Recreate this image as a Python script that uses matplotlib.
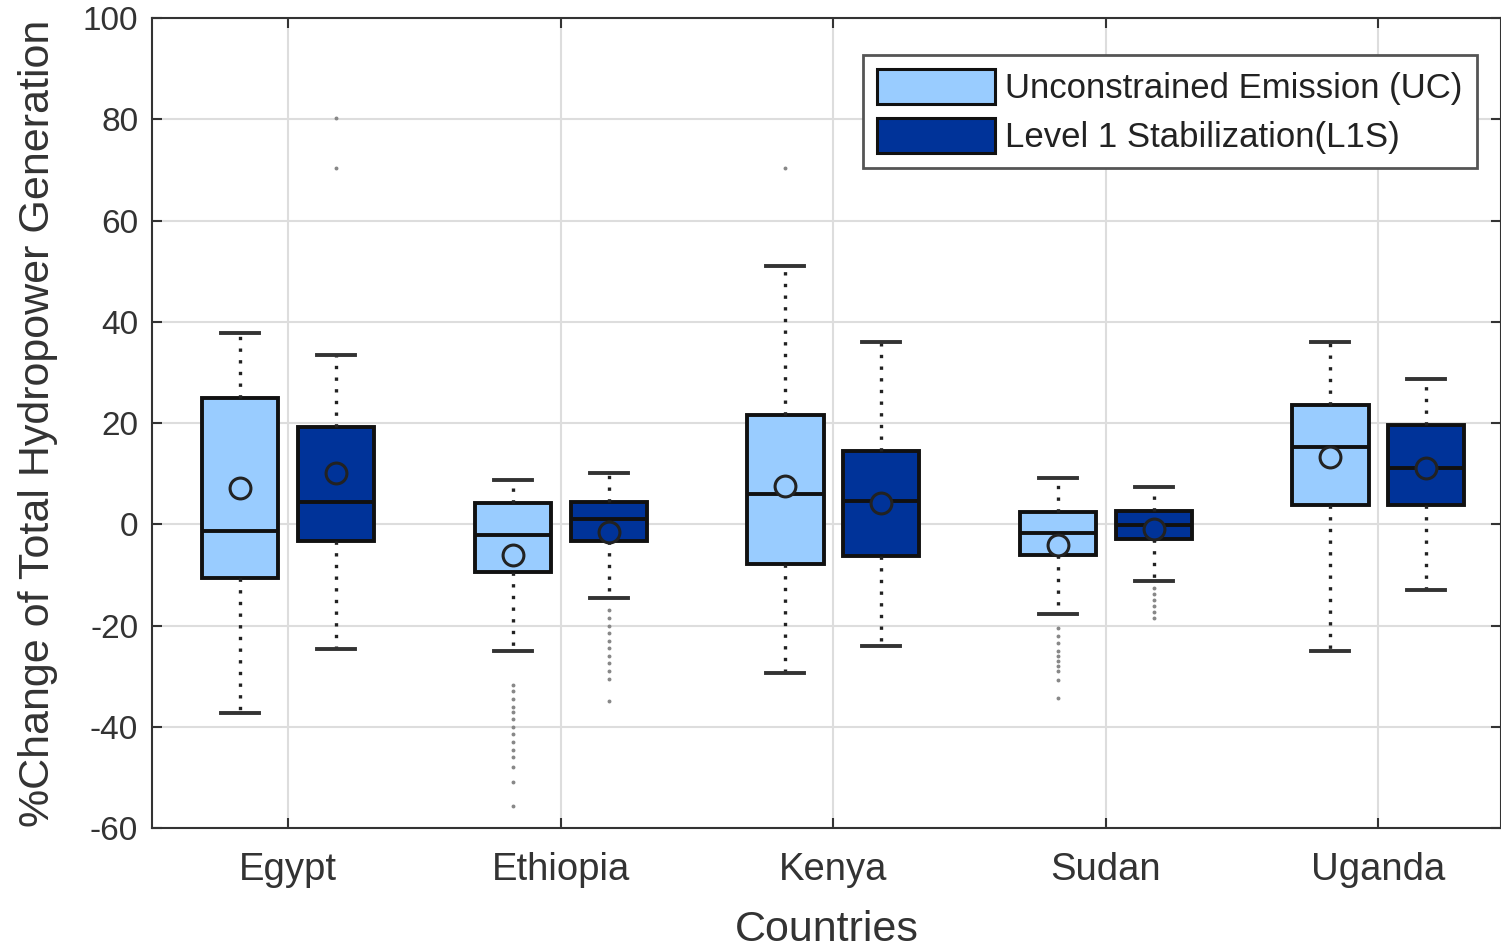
import matplotlib.pyplot as plt
from matplotlib.patches import Patch

plt.rcParams['font.family'] = ['Liberation Sans', 'DejaVu Sans']

# data
countries = ['Egypt', 'Ethiopia', 'Kenya', 'Sudan', 'Uganda']

uc_whislo = [-37.2, -25.0, -29.3, -17.8, -25.1]
uc_q1 = [-10.7, -9.5, -7.9, -6.1, 3.8]
uc_med = [-1.4, -2.2, 5.9, -1.8, 15.3]
uc_q3 = [25.0, 4.2, 21.6, 2.4, 23.6]
uc_whishi = [37.8, 8.7, 51.1, 9.1, 36.1]
uc_mean = [7.1, -6.1, 7.5, -4.0, 13.3]
uc_fliers = [
    [],
    [-31.8, -33, -34.5, -36, -37, -38.5, -40, -41.5, -43, -44.5, -46, -48, -51, -55.7],
    [70.3],
    [-20.5, -22, -23.5, -25, -26, -27, -28, -29, -30.7, -34.3],
    [],
]

l1_whislo = [-24.6, -14.5, -24.0, -11.2, -12.9]
l1_q1 = [-3.4, -3.4, -6.3, -3.0, 3.8]
l1_med = [4.4, 1.0, 4.6, -0.2, 11.2]
l1_q3 = [19.2, 4.4, 14.5, 2.6, 19.6]
l1_whishi = [33.5, 10.1, 36.0, 7.3, 28.7]
l1_mean = [10.1, -1.6, 4.2, -1.0, 11.1]
l1_fliers = [
    [80.3, 70.3],
    [-17, -18.5, -20, -21.5, -23, -24.5, -26, -27.5, -29, -30.5, -35],
    [],
    [-12.5, -13.8, -15, -16.2, -17.3, -18.5],
    [],
]

light = '#99CCFF'
dark = '#003399'


def make_stats(lo, q1, med, q3, hi, mean, fl):
    return [dict(whislo=lo[i], q1=q1[i], med=med[i], q3=q3[i], whishi=hi[i],
                 mean=mean[i], fliers=fl[i]) for i in range(len(lo))]


fig = plt.figure(figsize=(15.01, 9.49), dpi=100)
ax = fig.add_axes([0.1013, 0.1275, 0.8987, 0.8535])

x = list(range(1, len(countries) + 1))
off = 0.176
w = 0.28

for stats, pos, col in [
    (make_stats(uc_whislo, uc_q1, uc_med, uc_q3, uc_whishi, uc_mean, uc_fliers),
     [p - off for p in x], light),
    (make_stats(l1_whislo, l1_q1, l1_med, l1_q3, l1_whishi, l1_mean, l1_fliers),
     [p + off for p in x], dark),
]:
    ax.bxp(stats, positions=pos, widths=w, patch_artist=True, showmeans=True,
           capwidths=0.14,
           boxprops=dict(facecolor=col, edgecolor='#111111', linewidth=2.8),
           medianprops=dict(color='#111111', linewidth=2.8),
           whiskerprops=dict(color='#222222', linewidth=2.4, linestyle=(0, (1, 2.5))),
           capprops=dict(color='#333333', linewidth=2.8),
           meanprops=dict(marker='o', markerfacecolor=col, markeredgecolor='#222222',
                          markersize=15, markeredgewidth=2.2),
           flierprops=dict(marker='o', markersize=1.8, markerfacecolor='#888888',
                           markeredgecolor='#888888', linestyle='none'),
           zorder=3)

ax.set_xlim(0.5, 5.45)
ax.set_ylim(-60, 100)
ax.set_xticks(x)
ax.set_xticklabels(countries)
yt = list(range(-60, 101, 20))
ax.set_yticks(yt)
ax.set_yticklabels([str(v) for v in yt])
ax.tick_params(direction='in', length=7, width=1.5, colors='#333333',
               top=True, right=True)
ax.tick_params(axis='x', labelsize=27.5, pad=17)
ax.tick_params(axis='y', labelsize=24, pad=10)
ax.grid(True, color='#dddddd', linewidth=1.5, zorder=0)
ax.set_axisbelow(True)
for s in ax.spines.values():
    s.set_color('#333333')
    s.set_linewidth(1.5)

ax.set_xlabel('Countries', fontsize=31, color='#333333', labelpad=16)
ax.set_ylabel('%Change of Total Hydropower Generation', fontsize=31,
              color='#333333', labelpad=18)

handles = [Patch(facecolor=light, edgecolor='#111111', linewidth=2.2),
           Patch(facecolor=dark, edgecolor='#111111', linewidth=2.2)]
leg = ax.legend(handles, ['Unconstrained Emission (UC)', 'Level 1 Stabilization(L1S)'],
                loc='upper right', bbox_to_anchor=(0.982, 0.954), borderaxespad=0,
                fontsize=25, fancybox=False, edgecolor='#555555', framealpha=1,
                handlelength=3.4, handleheight=1.15, handletextpad=0.3,
                labelspacing=0.38, borderpad=0.4)
leg.get_frame().set_linewidth(2)
for t in leg.get_texts():
    t.set_color('#222222')

fig.savefig('out.png', dpi=100)
